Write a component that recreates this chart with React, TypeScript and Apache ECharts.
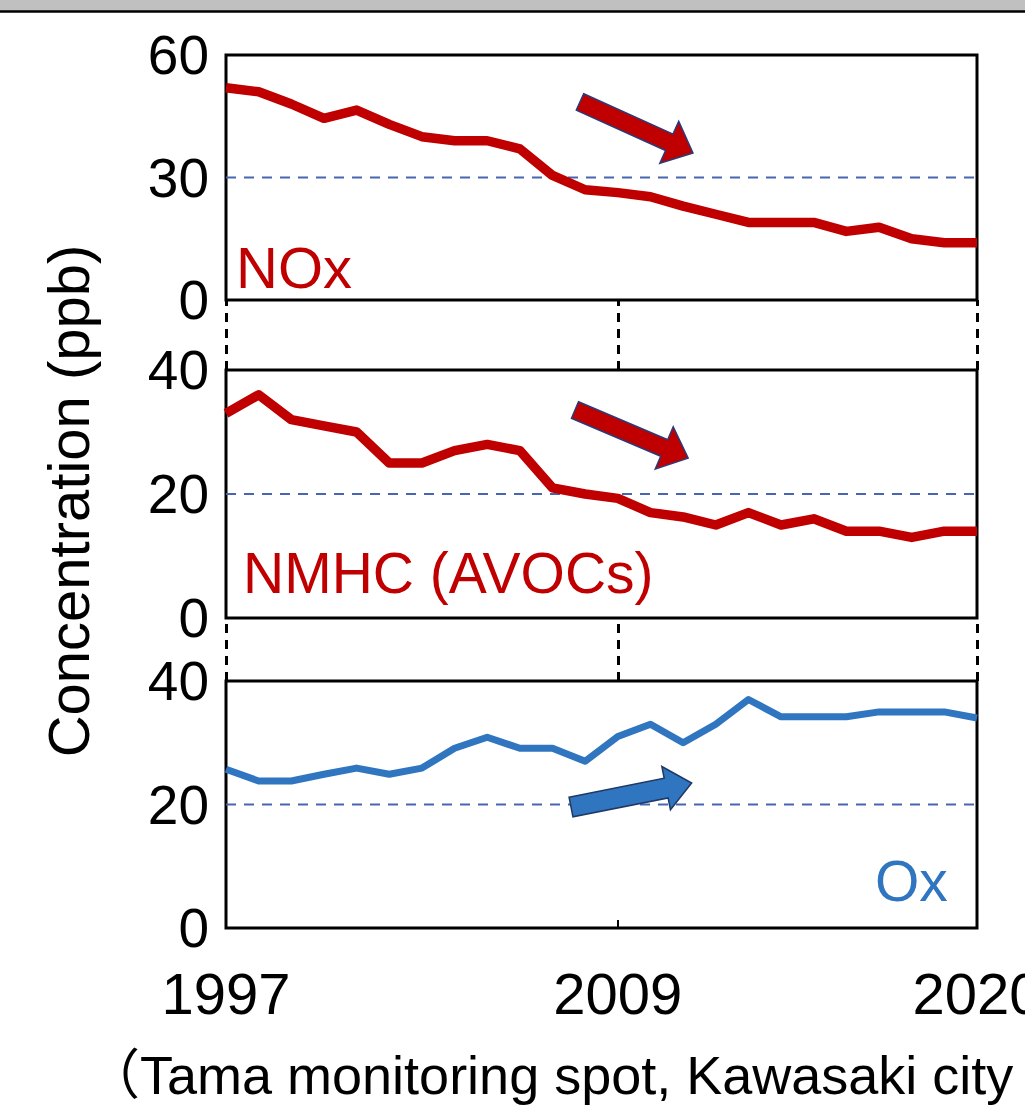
import React, { useEffect, useRef } from "react";
import * as echarts from "echarts";

const years = [1997, 1998, 1999, 2000, 2001, 2002, 2003, 2004, 2005, 2006, 2007, 2008, 2009, 2010, 2011, 2012, 2013, 2014, 2015, 2016, 2017, 2018, 2019, 2020];
const noxValues = [52, 51, 48, 44.5, 46.5, 43, 40, 39, 39, 37, 30.5, 27, 26.3, 25.3, 23, 21, 19, 19, 19, 16.8, 17.8, 15, 14, 14];
const nmhcValues = [33, 36, 32, 31, 30, 25, 25, 27, 28, 27, 21, 20, 19.3, 17, 16.3, 15, 17, 15, 16, 14, 14, 13, 14, 14];
const oxValues = [25.7, 23.8, 23.8, 24.9, 25.9, 24.9, 25.9, 29.1, 30.9, 29.1, 29.1, 27, 31, 33, 30, 33, 37, 34.2, 34.2, 34.2, 35, 35, 35, 34];
const xTickLabels = [1997, 2009, 2020];
const innerTicks = [2009];
const panelMax = [60, 40, 40];
const panelInterval = [30, 20, 20];
const refLevels = [30, 20, 20];
const panelNames = ["NOx", "NMHC (AVOCs)", "Ox"];
const yTitle = "Concentration (ppb)";
const caption = "（Tama monitoring spot, Kawasaki city";

const RED = "#c00000";
const BLUE = "#2f75c0";
const FONT = "'Liberation Sans', Arial, 'Noto Sans CJK JP', sans-serif";

function arrowPoints(L: number, bw: number, hl: number, hw: number) {
  return [
    [0, -bw],
    [L - hl, -bw],
    [L - hl, -hw],
    [L, 0],
    [L - hl, hw],
    [L - hl, bw],
    [0, bw],
  ];
}

export default function App() {
  const ref = useRef<HTMLDivElement>(null);
  useEffect(() => {
    document.body.style.margin = "0";
    const chart = echarts.init(ref.current!, null, { renderer: "svg" });
    const L = 226;
    const R = 48;
    const grids: any[] = [
      { left: L, right: R, top: 55, height: 245 },
      { left: L, right: R, top: 370, height: 248 },
      { left: L, right: R, top: 681, height: 247 },
      { left: L, right: R, top: 300, height: 70 },
      { left: L, right: R, top: 618, height: 63 },
    ].map((g, i) => ({
      ...g,
      show: i < 3,
      containLabel: false,
      outerBoundsMode: "none",
      borderColor: "#000",
      borderWidth: 3,
      backgroundColor: "transparent",
    }));

    const xAxes: any[] = grids.map((_, i) => ({
      gridIndex: i,
      type: "value",
      min: years[0],
      max: years[years.length - 1],
      axisLine: { show: false },
      axisTick: { show: false },
      axisLabel: { show: false },
      splitLine: { show: false },
    }));
    xAxes[2] = {
      ...xAxes[2],
      axisLabel: {
        show: true,
        customValues: xTickLabels,
        showMinLabel: true,
        showMaxLabel: true,
        hideOverlap: false,
        formatter: (v: number) => String(v),
        fontSize: 58,
        color: "#000",
        fontFamily: FONT,
        margin: 36,
      },
      axisTick: {
        show: true,
        customValues: innerTicks,
        inside: true,
        length: 8,
        lineStyle: { color: "#000", width: 2 },
      },
    };

    const yAxes: any[] = grids.map((_, i) =>
      i < 3
        ? {
            gridIndex: i,
            type: "value",
            min: 0,
            max: panelMax[i],
            interval: panelInterval[i],
            axisLine: { show: false },
            axisTick: { show: false },
            splitLine: { show: false },
            axisLabel: {
              fontSize: 55,
              color: "#000",
              fontFamily: FONT,
              margin: 17,
            },
          }
        : {
            gridIndex: i,
            type: "value",
            min: 0,
            max: 1,
            show: false,
          }
    );

    const mainData = [noxValues, nmhcValues, oxValues];
    const colors = [RED, RED, BLUE];
    const widths = [9.5, 9.5, 7];
    const series: any[] = [];
    mainData.forEach((vals, i) => {
      series.push({
        type: "line",
        name: panelNames[i] + " ref",
        xAxisIndex: i,
        yAxisIndex: i,
        data: [
          [years[0], refLevels[i]],
          [years[years.length - 1], refLevels[i]],
        ],
        symbol: "none",
        silent: true,
        z: 1,
        lineStyle: { color: "#4a64b4", width: 2, type: [10, 8] },
      });
      series.push({
        type: "line",
        name: panelNames[i],
        xAxisIndex: i,
        yAxisIndex: i,
        data: years.map((y, k) => [y, vals[k]]),
        symbol: "none",
        z: 3,
        lineStyle: { color: colors[i], width: widths[i], join: "round", cap: "butt" },
      });
    });
    [3, 4].forEach((gi) => {
      series.push({
        type: "line",
        xAxisIndex: gi,
        yAxisIndex: gi,
        data: [[years[0], 0]],
        symbol: "none",
        clip: false,
        silent: true,
        lineStyle: { opacity: 0 },
        markLine: {
          silent: true,
          symbol: ["none", "none"],
          label: { show: false },
          lineStyle: { color: "#000", width: 3, type: [9, 7] },
          data: xTickLabels.map((x) => ({ xAxis: x })),
        },
      });
    });

    const graphic: any[] = [
      { type: "rect", shape: { x: 0, y: 0, width: 1025, height: 11 }, style: { fill: "#c0c0c0" } },
      { type: "line", shape: { x1: 0, y1: 11.5, x2: 1025, y2: 11.5 }, style: { stroke: "#000", lineWidth: 2.5 } },
      {
        type: "polygon",
        x: 580,
        y: 102,
        rotation: -0.424,
        shape: { points: arrowPoints(124, 9, 26, 23) },
        style: { fill: RED, stroke: "#2b3a78", lineWidth: 1.5 },
        z: 10,
      },
      {
        type: "polygon",
        x: 575,
        y: 410,
        rotation: -0.402,
        shape: { points: arrowPoints(123, 9, 26, 23) },
        style: { fill: RED, stroke: "#2b3a78", lineWidth: 1.5 },
        z: 10,
      },
      {
        type: "polygon",
        x: 571,
        y: 807,
        rotation: 0.196,
        shape: { points: arrowPoints(123, 10, 26, 22) },
        style: { fill: BLUE, stroke: "#1f3864", lineWidth: 1.5 },
        z: 10,
      },
      {
        type: "text",
        x: 236,
        y: 267,
        style: { text: panelNames[0], fill: RED, font: `58px ${FONT}`, textAlign: "left", textVerticalAlign: "middle" },
        z: 10,
      },
      {
        type: "text",
        x: 243,
        y: 573,
        style: { text: panelNames[1], fill: RED, font: `57px ${FONT}`, textAlign: "left", textVerticalAlign: "middle" },
        z: 10,
      },
      {
        type: "text",
        x: 875,
        y: 881,
        style: { text: panelNames[2], fill: BLUE, font: `57px ${FONT}`, textAlign: "left", textVerticalAlign: "middle" },
        z: 10,
      },
      {
        type: "text",
        x: 68,
        y: 501,
        rotation: Math.PI / 2,
        style: { text: yTitle, fill: "#000", font: `58px ${FONT}`, textAlign: "center", textVerticalAlign: "middle" },
        z: 10,
      },
      {
        type: "text",
        x: 86,
        y: 1075,
        style: { text: caption, fill: "#000", font: `54px ${FONT}`, textAlign: "left", textVerticalAlign: "middle" },
        z: 10,
      },
    ];

    chart.setOption({
      animation: false,
      backgroundColor: "#fff",
      grid: grids,
      xAxis: xAxes,
      yAxis: yAxes,
      series,
      graphic,
    });
    return () => chart.dispose();
  }, []);
  return <div ref={ref} style={{ width: 1025, height: 1106 }} />;
}
